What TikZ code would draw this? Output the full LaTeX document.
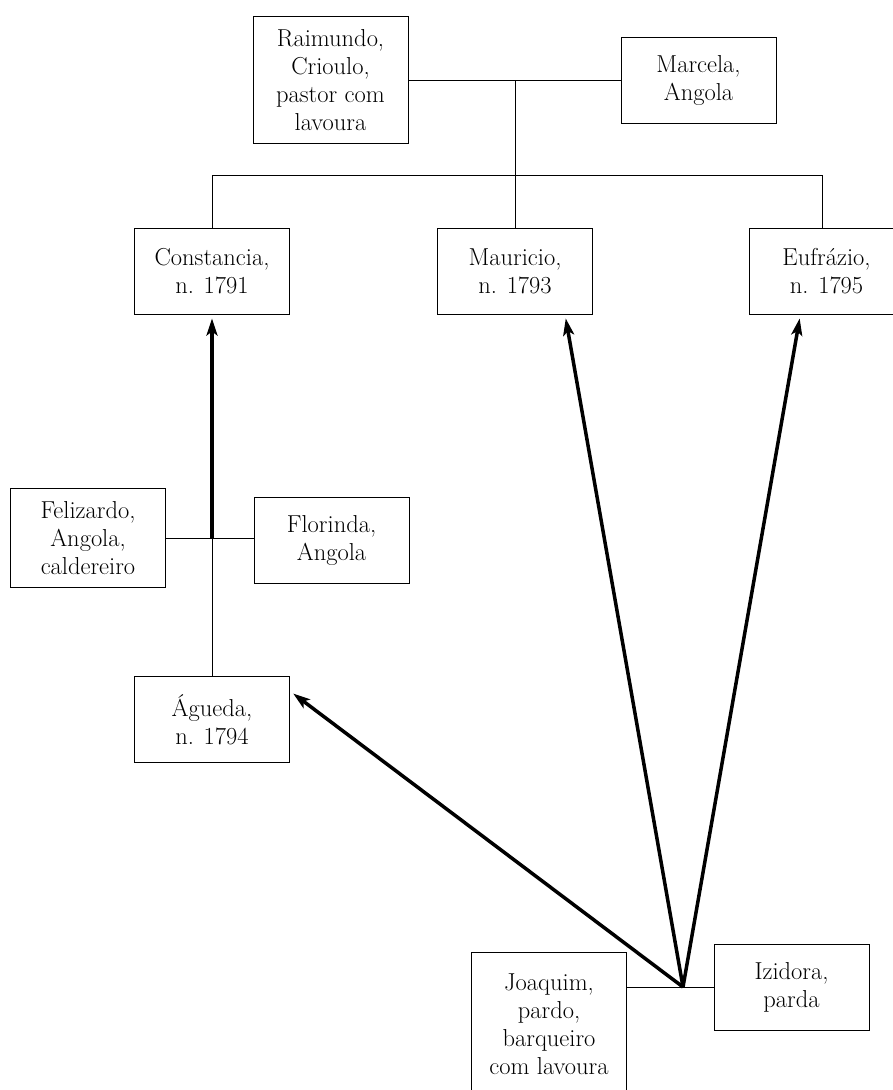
\documentclass[tikz,border=0pt]{standalone}
\usepackage{fontspec}
\usetikzlibrary{arrows.meta}

\tikzset{
    person/.style={draw, line width=1pt, align=center, minimum width=155pt,
        minimum height=86pt, inner xsep=4pt, inner ysep=13pt,
        font=\fontsize{24.5}{28}\selectfont},
    tie/.style={line width=1pt},
    descent/.style={line width=3.5pt, shorten >=4pt,
        -{Stealth[length=17pt,width=11pt,inset=4pt]}}
}

\begin{document}
\begin{tikzpicture}[x=1pt, y=-1pt]
    \useasboundingbox (0,0) rectangle (893,1090);

    % first couple and their children
    \node [person] (raimundo)   at (330.5,80)  {Raimundo,\\Crioulo,\\pastor com\\lavoura};
    \node [person] (marcela)    at (698.5,80)  {Marcela,\\Angola};
    \node [person] (constancia) at (212,271)   {Constancia,\\n. 1791};
    \node [person] (mauricio)   at (515,271)   {Mauricio,\\n. 1793};
    \node [person] (eufrazio)   at (826.5,271) {Eufrázio,\\n. 1795};

    % second couple and their daughter
    \node [person] (felizardo)  at (88,538)    {Felizardo,\\Angola,\\caldereiro};
    \node [person] (florinda)   at (331.5,540) {Florinda,\\Angola};
    \node [person] (agueda)     at (212,719.5) {Águeda,\\n. 1794};

    % godparents
    \node [person, minimum height=145pt] (joaquim) at (549,1024.5) {Joaquim,\\pardo,\\barqueiro\\com lavoura};
    \node [person] (izidora)    at (791.5,987) {Izidora,\\parda};

    % junction points
    \coordinate (rm)   at (515,80);
    \coordinate (sibL) at (212,175);
    \coordinate (sibR) at (822,175);
    \coordinate (ff)   at (212,538);
    \coordinate (ji)   at (683,987);

    % family lines
    \draw [tie] (raimundo.east) -- (marcela.west)
        (rm) -- (mauricio.north)
        (sibL) -- (sibR)
        (sibL) -- (constancia.north)
        (sibR) -- (sibR |- eufrazio.north);
    \draw [tie] (felizardo.east |- ff) -- (florinda.west |- ff)
        (ff) -- (agueda.north);
    \draw [tie] (joaquim.east |- ji) -- (izidora.west);

    % godparent arrows
    \draw [descent] (ff) -- (constancia.south);
    \draw [descent] (ji) -- (agueda.20);
    \draw [descent] (ji) -- (mauricio.-41);
    \draw [descent] (ji) -- (eufrazio.-121);
\end{tikzpicture}
\end{document}
